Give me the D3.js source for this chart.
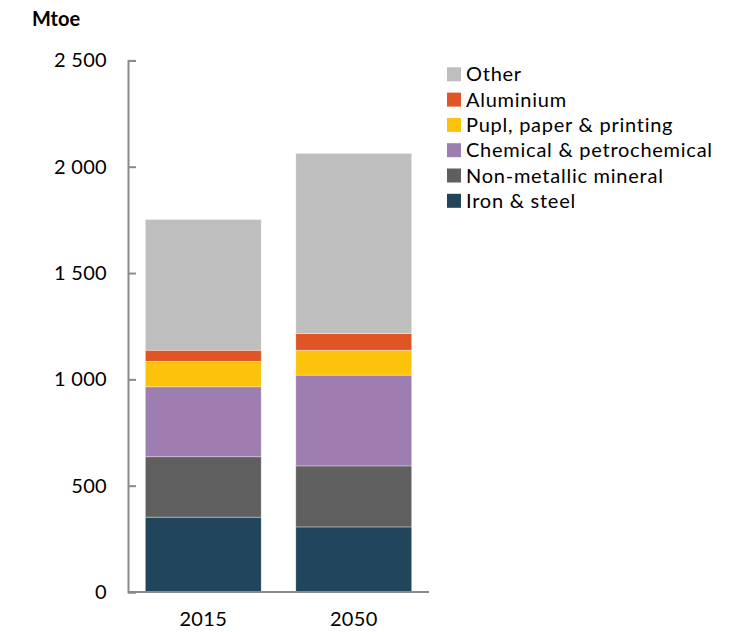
<!DOCTYPE html>
<html>
<head>
<meta charset="utf-8">
<script src="https://cdn.jsdelivr.net/npm/d3@7"></script>
<style>
  html, body { margin: 0; padding: 0; background: #fff; }
  svg { display: block; }
  text { font-family: Lato, "Open Sans", sans-serif; fill: #000; }
</style>
</head>
<body>
<svg id="chart" width="735" height="632"></svg>
<script>
// Industrial final energy consumption by sector, Mtoe
const years = ["2015", "2050"];
const sectors = ["Iron & steel", "Non-metallic mineral", "Chemical & petrochemical",
                 "Pupl, paper & printing", "Aluminium", "Other"];
const ironSteel    = [352, 306];
const nonMetallic  = [284, 287];
const chemical     = [329, 427];
const pulpPaper    = [120, 117];
const aluminium    = [52, 79];
const other        = [615, 847];
const yTicks = [0, 500, 1000, 1500, 2000, 2500];
const colors = ["#21455a", "#5f5f5f", "#9e7db0", "#fdc20b", "#e05526", "#bebebe"];

const seriesValues = [ironSteel, nonMetallic, chemical, pulpPaper, aluminium, other];
const rows = years.map((yr, i) => {
  const r = { year: yr };
  sectors.forEach((s, k) => { r[s] = seriesValues[k][i]; });
  return r;
});

const svg = d3.select("#chart");
const plot = { left: 128, right: 429, top: 60.4, bottom: 592 };

const x = d3.scaleBand().domain(years)
  .range([plot.left, plot.right]).paddingInner(0.23).paddingOuter(0.115);
const y = d3.scaleLinear().domain([0, 2500]).range([plot.bottom, plot.top]);
const color = d3.scaleOrdinal().domain(sectors).range(colors);

const stack = d3.stack().keys(sectors)(rows);

// stacked bars
svg.append("g").selectAll("g").data(stack).join("g")
  .attr("fill", d => color(d.key))
  .selectAll("rect").data(d => d).join("rect")
  .attr("x", d => x(d.data.year))
  .attr("width", x.bandwidth())
  .attr("y", d => y(d[1]))
  .attr("height", d => y(d[0]) - y(d[1]))
  .attr("stroke", "#ffffff")
  .attr("stroke-opacity", 0.5)
  .attr("stroke-width", 0.7);

const fmt = v => d3.format(",")(v).replace(/,/g, " ");

// y axis with inward ticks
const yAxis = svg.append("g").attr("transform", `translate(${plot.left},0)`)
  .call(d3.axisLeft(y).tickValues(yTicks).tickFormat(fmt).tickSize(-8).tickPadding(21));
yAxis.select(".domain").attr("stroke", "#8a8a8a").attr("stroke-width", 2);
yAxis.selectAll(".tick line").attr("stroke", "#8a8a8a").attr("stroke-width", 2);
yAxis.selectAll(".tick text").attr("font-size", 20).attr("font-family", "Lato, sans-serif")
  .attr("letter-spacing", "0.3px").attr("fill", "#000");

// x axis
const xAxis = svg.append("g").attr("transform", `translate(0,${plot.bottom})`)
  .call(d3.axisBottom(x).tickSize(0).tickPadding(20));
xAxis.select(".domain").attr("stroke", "#8a8a8a").attr("stroke-width", 2)
  .attr("d", `M${plot.left},0H${plot.right}`);
xAxis.selectAll(".tick text").attr("font-size", 20).attr("font-family", "Lato, sans-serif")
  .attr("letter-spacing", "0.3px").attr("fill", "#000");

// unit label
svg.append("text").attr("x", 32).attr("y", 26)
  .attr("font-size", 20).attr("font-weight", "bold").text("Mtoe");

// legend, top entry is the top of the stack
const legend = svg.append("g").attr("transform", "translate(447,74.3)");
const items = sectors.slice().reverse();
const li = legend.selectAll("g").data(items).join("g")
  .attr("transform", (d, i) => `translate(0,${i * 25.3})`);
li.append("rect").attr("x", 0).attr("y", -7).attr("width", 14).attr("height", 14)
  .attr("fill", d => color(d));
li.append("text").attr("x", 19).attr("y", 0).attr("dy", "0.35em")
  .attr("font-size", 20).attr("letter-spacing", "0.75px").text(d => d);
</script>
</body>
</html>
